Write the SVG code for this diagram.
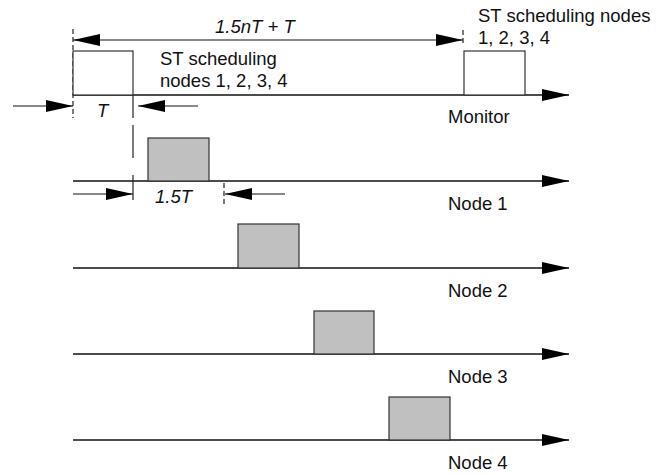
<svg xmlns="http://www.w3.org/2000/svg" width="656" height="475" viewBox="0 0 656 475">
<style>
text{font-family:"Liberation Sans",Arial,sans-serif;font-size:18.5px;fill:#111}
.it{font-style:italic}
.axis{stroke:#111;stroke-width:1.3;fill:none}
.dim{stroke:#111;stroke-width:1.2;fill:none}
.dash{stroke:#222;stroke-width:1.2;stroke-dasharray:5,3;fill:none}
.guide{stroke:#222;stroke-width:1.2;fill:none}
.box{fill:#ffffff;stroke:#333;stroke-width:1.2}
.slot{fill:#c0c0c0;stroke:#333;stroke-width:1.2}
</style>
<defs>
<marker id="ah" markerUnits="userSpaceOnUse" markerWidth="28" markerHeight="14" refX="27" refY="6" orient="auto-start-reverse">
<path d="M0,0 L27,6 L0,12 z" fill="#000"/>
</marker>
</defs>
<rect width="656" height="475" fill="#fff"/>
<g id="connectors">
<line class="axis" x1="73" y1="95" x2="569" y2="95" marker-end="url(#ah)"/>
<line class="axis" x1="73" y1="181" x2="569" y2="181" marker-end="url(#ah)"/>
<line class="axis" x1="73" y1="268" x2="569" y2="268" marker-end="url(#ah)"/>
<line class="axis" x1="73" y1="354" x2="569" y2="354" marker-end="url(#ah)"/>
<line class="axis" x1="73" y1="440" x2="569" y2="440" marker-end="url(#ah)"/>
<line class="dim" x1="73" y1="40" x2="463" y2="40" marker-start="url(#ah)" marker-end="url(#ah)"/>
<line class="dim" x1="13" y1="106" x2="73" y2="106" marker-end="url(#ah)"/>
<line class="dim" x1="198" y1="106" x2="138" y2="106" marker-end="url(#ah)"/>
<line class="dim" x1="73" y1="194" x2="133" y2="194" marker-end="url(#ah)"/>
<line class="dim" x1="285" y1="194" x2="225" y2="194" marker-end="url(#ah)"/>
<line class="dash" x1="73" y1="29" x2="73" y2="118"/>
<line class="dash" x1="463" y1="30" x2="463" y2="46"/>
<line class="dash" x1="224" y1="183" x2="224" y2="206"/>
<line class="guide" x1="133" y1="95" x2="133" y2="118"/>
<line class="guide" x1="133" y1="125" x2="133" y2="158"/>
<line class="guide" x1="133" y1="175" x2="133" y2="200"/>
</g>
<g id="monitor">
<rect class="box" x="73" y="51" width="60" height="44"/>
<rect class="box" x="464" y="51" width="61" height="44"/>
<text x="448" y="123">Monitor</text>
<text x="160" y="65">ST scheduling</text>
<text x="160" y="87">nodes 1, 2, 3, 4</text>
<text x="478" y="22">ST scheduling nodes</text>
<text x="478" y="44">1, 2, 3, 4</text>
</g>
<g id="dimensions">
<text class="it" x="215" y="33">1.5nT + T</text>
<text class="it" x="97" y="117">T</text>
<text class="it" x="155" y="203">1.5T</text>
</g>
<g id="node1">
<rect class="slot" x="148" y="138" width="61" height="43"/>
<text x="448" y="210">Node 1</text>
</g>
<g id="node2">
<rect class="slot" x="238" y="224" width="61" height="44"/>
<text x="448" y="297">Node 2</text>
</g>
<g id="node3">
<rect class="slot" x="314" y="311" width="60" height="43"/>
<text x="448" y="383">Node 3</text>
</g>
<g id="node4">
<rect class="slot" x="389" y="397" width="61" height="43"/>
<text x="448" y="469">Node 4</text>
</g>
</svg>
